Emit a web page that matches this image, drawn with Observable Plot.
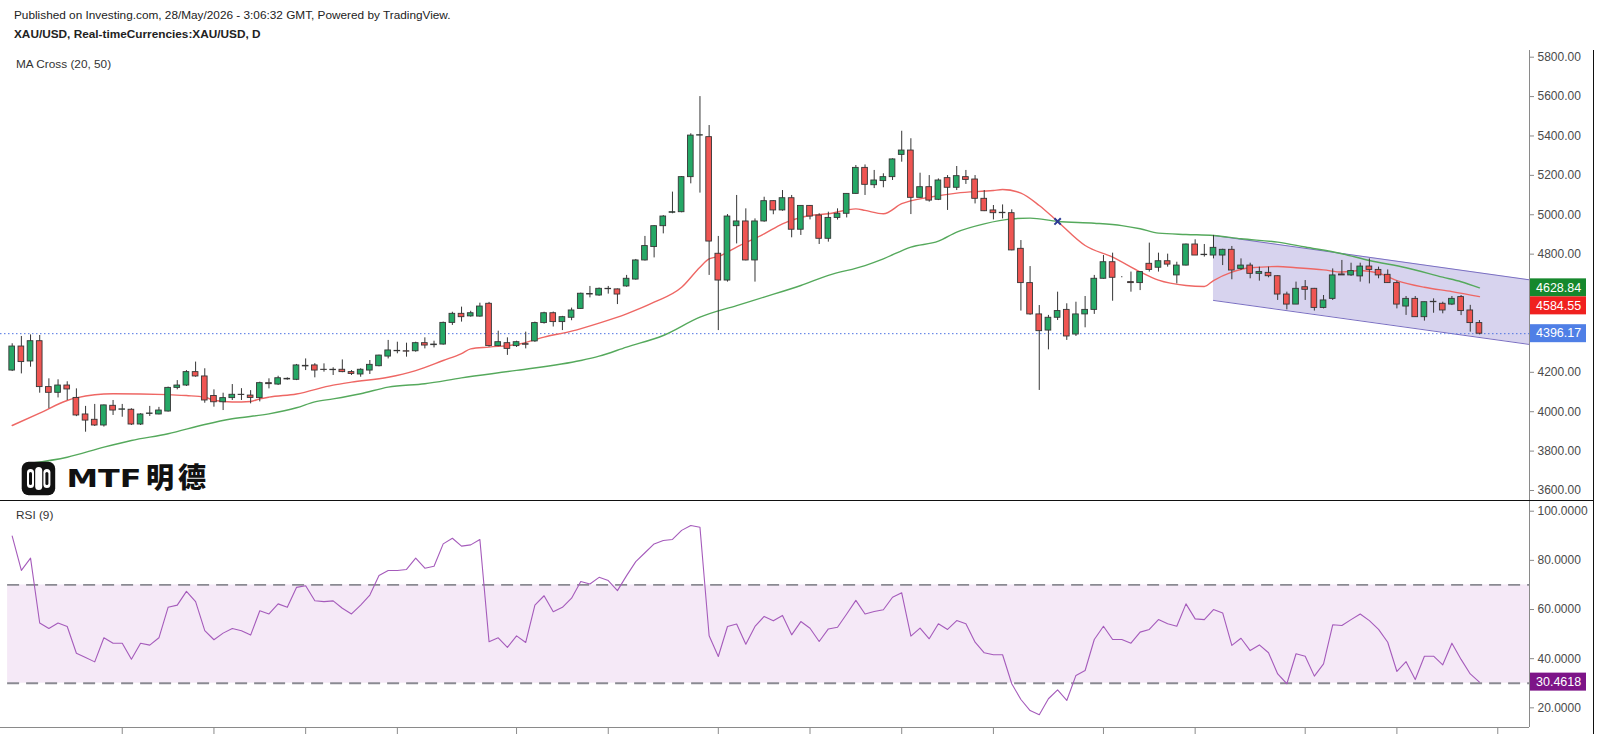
<!DOCTYPE html>
<html><head><meta charset="utf-8">
<script src="https://cdn.jsdelivr.net/npm/d3@7"></script>
<script src="https://cdn.jsdelivr.net/npm/@observablehq/plot@0.6"></script>
<style>
html,body{margin:0;padding:0;background:#fff;}
#root{position:relative;width:1600px;height:734px;overflow:hidden;font-family:"Liberation Sans",Arial,sans-serif;}
.t{position:absolute;white-space:nowrap;color:#222;line-height:1;}
.pane{position:absolute;left:0;}
.line{position:absolute;background:#111;}
</style></head><body>
<div id="root">
  <div class="t" style="left:14px;top:10px;font-size:11.8px;">Published on Investing.com, 28/May/2026 - 3:06:32 GMT, Powered by TradingView.</div>
  <div class="t" style="left:14px;top:29px;font-size:11.8px;font-weight:bold;">XAU/USD, Real-timeCurrencies:XAU/USD, D</div>
  <div class="t" style="left:16px;top:59px;font-size:11.8px;color:#333;">MA Cross (20, 50)</div>
  <div id="price" class="pane" style="top:50px;"></div>
  <div id="rsi" class="pane" style="top:501px;"></div>
  <div class="t" style="left:16px;top:510px;font-size:11.8px;color:#333;">RSI (9)</div>
  <div class="line" style="left:0;top:499.5px;width:1594px;height:1.5px;"></div>
  <div class="line" style="left:1592.5px;top:50px;width:1.3px;height:684px;"></div>
  <svg style="position:absolute;left:18px;top:456px;" width="280" height="43">
    <rect x="3.7" y="5.7" width="33.5" height="33.5" rx="7" fill="#111"/>
    <rect x="9" y="13" width="7" height="19" rx="3.5" fill="#fff"/>
    <rect x="17.2" y="11" width="7" height="23" rx="3.5" fill="#fff"/>
    <rect x="25.4" y="13" width="7" height="19" rx="3.5" fill="#fff"/>
    <rect x="11" y="16" width="3" height="13" rx="1.5" fill="#111"/>
    <rect x="27.4" y="16" width="3" height="13" rx="1.5" fill="#111"/>
    <text x="48.5" y="30.7" font-family="DejaVu Sans, sans-serif" font-weight="bold" font-size="25.5" fill="#111" textLength="75" lengthAdjust="spacingAndGlyphs">MTF</text>
    <text x="128" y="31.5" font-family="Noto Sans CJK SC, sans-serif" font-weight="900" font-size="28" fill="#111" letter-spacing="4">明德</text>
  </svg>
</div>
<script>
// ---- candle data (index 0..160) ----
const opens = [4209,4331,4255,4358,4125,4096,4133,4070,3986,3959,
3930,4030,4010,4010,3935,3989,3986,4001,4121,4133,
4201,4179,4080,4048,4069,4086,4082,4069,4145,4138,
4167,4162,4233,4235,4213,4213,4213,4201,4189,4209,
4231,4280,4307,4307,4307,4348,4338,4341,4451,4497,
4484,4483,4548,4333,4348,4333,4343,4357,4450,4500,
4455,4477,4522,4598,4590,4624,4621,4636,4671,4768,
4836,4942,5010,5013,5191,5402,5394,4802,4666,4942,
4966,4768,4966,5069,5022,5084,4924,5045,4996,4878,
4984,5005,5106,5238,5150,5171,5191,5304,5326,5086,
5140,5076,5186,5137,5191,5179,5081,5022,5008,5008,
4827,4653,4494,4412,4477,4517,4392,4494,4517,4675,
4759,4683,4658,4653,4751,4731,4764,4692,4742,4849,
4797,4793,4793,4822,4725,4742,4700,4705,4688,4595,
4544,4632,4624,4527,4573,4697,4692,4687,4737,4720,
4695,4653,4534,4573,4480,4556,4548,4544,4582,4514,
4450];
const highs = [4345,4382,4390,4387,4167,4162,4152,4116,4027,4037,
4034,4057,4037,4015,3990,4027,4022,4125,4158,4209,
4252,4218,4111,4094,4138,4117,4107,4150,4167,4180,
4172,4240,4268,4244,4243,4223,4263,4209,4218,4260,
4287,4362,4353,4348,4353,4375,4358,4455,4505,4531,
4510,4551,4555,4409,4375,4358,4404,4455,4505,4506,
4484,4526,4602,4636,4628,4636,4623,4692,4773,4890,
4945,4996,5115,5194,5411,5600,5453,4890,5001,5098,
5030,4979,5089,5071,5123,5098,5045,5047,5005,5013,
5030,5106,5250,5253,5225,5208,5284,5424,5386,5211,
5199,5182,5199,5245,5225,5199,5123,5047,5050,5025,
4869,4737,4539,4489,4607,4548,4556,4585,4692,4793,
4805,4686,4709,4709,4856,4805,4800,4759,4851,4873,
4849,4895,4825,4839,4776,4754,4734,4734,4690,4607,
4658,4666,4626,4590,4725,4768,4754,4754,4776,4734,
4720,4663,4585,4585,4556,4573,4556,4585,4590,4540,
4463];
const lows = [4204,4192,4226,4094,4015,4070,4057,3975,3896,3925,
3922,3981,3972,3930,3930,3976,3984,3998,4111,4128,
4175,4043,4023,4006,4057,4057,4040,4050,4116,4133,
4160,4158,4209,4172,4201,4184,4198,4184,4175,4189,
4228,4268,4294,4277,4302,4319,4324,4338,4438,4455,
4480,4480,4328,4330,4286,4326,4319,4352,4445,4430,
4412,4462,4520,4578,4586,4597,4544,4632,4668,4765,
4781,4903,5005,5010,5157,5110,4692,4412,4658,4852,
4766,4658,4962,5000,5018,4883,4895,4974,4849,4861,
4973,4984,5104,5098,5133,5137,5174,5267,5001,5084,
5064,5072,5022,5123,5154,5055,5016,4974,4979,4817,
4511,4490,4108,4314,4463,4362,4382,4426,4494,4673,
4561,4680,4607,4615,4709,4709,4734,4649,4740,4793,
4785,4776,4742,4670,4717,4675,4663,4680,4565,4517,
4544,4565,4511,4522,4565,4692,4687,4658,4649,4675,
4652,4522,4489,4480,4460,4500,4497,4539,4488,4404,
4390];
const closes = [4331,4252,4358,4125,4096,4133,4113,3981,3955,3930,
4032,4006,4012,3935,3986,3991,4006,4121,4133,4201,
4179,4057,4048,4069,4086,4085,4070,4145,4140,4170,
4164,4235,4230,4209,4212,4211,4201,4192,4213,4238,
4285,4311,4309,4305,4348,4336,4341,4451,4497,4480,
4500,4534,4333,4353,4319,4353,4340,4450,4500,4455,
4480,4514,4599,4595,4624,4622,4595,4675,4768,4841,
4942,4991,5013,5191,5402,5404,4864,4666,4991,4966,
4768,4966,5069,5022,5084,4924,5045,4991,4878,4984,
5005,5106,5238,5152,5174,5191,5281,5326,5086,5140,
5072,5174,5137,5196,5177,5081,5018,5008,5010,4819,
4653,4494,4409,4477,4511,4382,4494,4517,4675,4759,
4680,4683,4653,4709,4720,4764,4747,4742,4849,4793,
4795,4832,4822,4717,4742,4700,4709,4688,4595,4544,
4624,4619,4527,4565,4692,4692,4714,4737,4720,4692,
4653,4544,4573,4480,4556,4558,4514,4573,4511,4450,
4396.17];

// ---- moving averages (bar index, value) ----
const ma20Idx = [0,3,6,7,11,17,19,21,22,24,26,27,28,31,35,37,41,44,47,49,50,52,55,58,61,64,67,70,73,75,76,77,79,82,84,87,89,92,93,95,97,100,103,107,108,110,112,114,117,120,123,125,128,130,131,133,135,138,140,143,145,147,149,151,154,157,160];
const ma20Val = [3930,3993,4057,4070,4091,4087,4082,4074,4058,4049,4052,4065,4074,4090,4135,4150,4175,4209,4260,4295,4319,4328,4341,4379,4409,4450,4497,4556,4632,4734,4776,4788,4836,4903,4954,4996,5005,5030,5022,5005,5056,5089,5110,5123,5128,5110,5047,4966,4844,4785,4710,4668,4641,4636,4666,4709,4731,4737,4731,4720,4709,4717,4704,4666,4632,4610,4584.55];
const ma50Idx = [2,6,10,13,17,21,24,28,31,33,35,38,41,45,49,55,62,64,67,71,75,79,82,86,89,93,95,98,101,103,106,109,111,114,118,121,123,125,128,131,134,138,141,145,148,152,156,158,160];
const ma50Val = [3738,3769,3820,3854,3888,3935,3964,3989,4020,4050,4065,4091,4125,4142,4172,4210,4260,4282,4328,4387,4480,4539,4582,4641,4692,4742,4776,4836,4866,4912,4954,4979,4983,4966,4957,4945,4929,4907,4900,4895,4878,4861,4836,4802,4768,4731,4683,4660,4628.84];
const crossIdx = [114];
const crossVal = [4966];

// ---- parallel channel ----
const chIdx = [131, 165.46];
const chTop = [4895, 4669.6];
const chBot = [4565, 4341.5];

// ---- RSI(9) per bar ----
const rsiVal = [89.9,75.9,80.9,54.5,52.3,54.5,53.1,42.2,40.5,38.7,
48.5,46.3,46.3,39.8,46.3,45.5,48.5,60.9,61.8,67.4,
63.2,51.4,47.7,50.4,52.3,51.4,49.6,59.5,58.2,62.3,
60.9,69.0,69.7,63.6,63.2,63.5,60.5,58.2,61.8,65.9,
73.8,75.9,75.9,76.3,80.9,76.8,77.6,86.7,89.0,85.8,
86.3,88.5,46.9,48.5,44.6,49.3,46.6,61.8,65.6,59.1,
60.9,64.6,71.4,70.4,73.1,71.8,67.7,73.8,79.5,83.1,
86.7,88.1,88.5,92.2,94.2,93.5,49.3,40.9,53.1,54.1,
45.9,53.1,57.2,55.4,57.6,49.7,55.1,52.4,47.0,52.1,
52.8,58.2,63.7,58.2,59.2,59.9,65.0,66.8,49.2,52.4,
48.1,54.2,51.9,55.5,54.2,46.7,42.4,41.6,41.6,29.8,
23.4,18.9,17.2,23.7,27.3,23.0,33.2,35.2,47.8,53.2,
47.8,47.8,46.3,50.8,51.9,55.9,54.2,53.2,62.3,56.2,
55.9,60.0,58.6,45.4,48.3,43.3,45.6,42.4,33.8,29.8,
42.0,41.0,32.9,37.9,53.8,53.5,55.9,58.2,55.5,51.9,
46.7,34.8,38.8,31.5,41.0,41.0,37.5,46.3,39.7,33.8,
30.4618];

// ---- ticks (4400 and 4600 labels are hidden behind the price tags in the reference) ----
const priceTicks = [3600,3800,4000,4200,4800,5000,5200,5400,5600,5800];
const rsiTicks = [20,40,60,80,100];
const rsiLevels = [70,30];
const timeTickIdx = [12,22,32,42,55,65,77,87,97,107,119,129,141,151,162];
const priceTags = [
  {v: 4628.84, label: "4628.84", bg: "#16882d"},
  {v: 4584.55, label: "4584.55", bg: "#f0211f"},
  {v: 4396.17, label: "4396.17", bg: "#4f7fe6"}
];
const rsiTags = [{v: 30.4618, label: "30.4618", bg: "#7d1488"}];
</script>
<script>
const xDomain = [-1.276, 165.46];
const priceDomain = [3549.2, 5834];
const rsiDomain = [12.0, 103.95];
const GREEN = "#25a866", RED = "#ef5552", EDGE = "#363636";
const FONT = "Liberation Sans, Arial, sans-serif";
const TAG_H = 18;

const candles = opens.map((o, i) => ({i, o, h: highs[i], l: lows[i], c: closes[i]}));
const ma20 = ma20Idx.map((i, k) => ({i, v: ma20Val[k]}));
const ma50 = ma50Idx.map((i, k) => ({i, v: ma50Val[k]}));
const cross = crossIdx.map((i, k) => ({i, v: crossVal[k]}));
const channel = chIdx.map((i, k) => ({i, top: chTop[k], bot: chBot[k]}));
const rsi = rsiVal.map((v, i) => ({i, v}));
const lastPrice = closes[closes.length - 1];

const price = Plot.plot({
  width: 1600, height: 450,
  marginLeft: 0, marginRight: 71, marginTop: 0, marginBottom: 0,
  style: {fontFamily: FONT, fontSize: "12px", color: "#4a4a4a", background: "transparent", overflow: "visible"},
  x: {domain: xDomain, axis: null},
  y: {domain: priceDomain},
  marks: [
    Plot.areaY(channel, {x: "i", y1: "bot", y2: "top", fill: "#8f86cf", fillOpacity: 0.36}),
    Plot.line(channel, {x: "i", y: "top", stroke: "#7a6fc2", strokeWidth: 1}),
    Plot.line(channel, {x: "i", y: "bot", stroke: "#7a6fc2", strokeWidth: 1}),
    Plot.ruleY([lastPrice], {stroke: "#4d72e3", strokeDasharray: "1.5,2.5", strokeWidth: 1}),
    Plot.line(ma50, {x: "i", y: "v", stroke: "#55a95c", strokeWidth: 1.4, curve: "monotone-x"}),
    Plot.line(ma20, {x: "i", y: "v", stroke: "#ee6764", strokeWidth: 1.4, curve: "monotone-x"}),
    Plot.ruleX(candles, {x: "i", y1: "l", y2: "h", stroke: EDGE, strokeWidth: 1}),
    Plot.rect(candles, {x1: d => d.i - 0.31, x2: d => d.i + 0.31, y1: "o", y2: "c",
      fill: d => d.c >= d.o ? GREEN : RED, stroke: EDGE, strokeWidth: 0.9}),
    Plot.dot(cross, {x: "i", y: "v", symbol: "times", r: 3, stroke: "#2c3a94", strokeWidth: 2}),
    Plot.ruleX([xDomain[1]], {stroke: "#8a8a8a"}),
    Plot.axisY({anchor: "right", ticks: priceTicks, tickFormat: d => d.toFixed(2), tickSize: 4, tickPadding: 4, stroke: "#8a8a8a", fill: "#4a4a4a"})
  ]
});
document.getElementById("price").appendChild(price);

const rsiPlot = Plot.plot({
  width: 1600, height: 233,
  marginLeft: 0, marginRight: 71, marginTop: 0, marginBottom: 7,
  style: {fontFamily: FONT, fontSize: "12px", color: "#4a4a4a", background: "transparent", overflow: "visible"},
  x: {domain: xDomain},
  y: {domain: rsiDomain},
  marks: [
    Plot.rect([{x1: -0.5, x2: xDomain[1], y1: 30, y2: 70}], {x1: "x1", x2: "x2", y1: "y1", y2: "y2", fill: "#9c27b0", fillOpacity: 0.1}),
    Plot.ruleY(rsiLevels.map(y => ({y, x1: -0.5, x2: xDomain[1]})), {y: "y", x1: "x1", x2: "x2", stroke: "#8a8a92", strokeWidth: 1.8, strokeDasharray: "12,7"}),
    Plot.line(rsi, {x: "i", y: "v", stroke: "#a55bbb", strokeWidth: 1.1}),
    Plot.ruleX([xDomain[1]], {stroke: "#8a8a8a"}),
    Plot.ruleY([rsiDomain[0]], {stroke: "#8a8a8a", strokeWidth: 1.2}),
    Plot.axisY({anchor: "right", ticks: rsiTicks, tickFormat: d => d.toFixed(4), tickSize: 4, tickPadding: 4, stroke: "#8a8a8a", fill: "#4a4a4a"}),
    Plot.axisX({anchor: "bottom", ticks: timeTickIdx, tickFormat: () => "", tickSize: 7, stroke: "#8a8a8a"})
  ]
});
document.getElementById("rsi").appendChild(rsiPlot);

// price tags on the right axis; like TradingView, a tag is pushed down when it would overlap the one above
function addTags(svgEl, tags) {
  const ys = svgEl.scale("y");
  const x0 = svgEl.scale("x").apply(xDomain[1]);
  const g = d3.select(svgEl).append("g").attr("text-anchor", "start");
  const placed = tags.map(t => ({...t, y: ys.apply(t.v)})).sort((a, b) => a.y - b.y);
  let prev = -Infinity;
  for (const t of placed) {
    const y = Math.max(t.y, prev + TAG_H);
    prev = y;
    g.append("rect").attr("x", x0 + 1).attr("y", y - TAG_H / 2).attr("width", 56).attr("height", TAG_H).attr("fill", t.bg);
    g.append("text").attr("x", x0 + 7).attr("y", y + 4.3).attr("fill", "#fff")
      .attr("text-anchor", "start").attr("font-family", FONT).attr("font-size", 12.5).text(t.label);
  }
}
addTags(price, priceTags);
addTags(rsiPlot, rsiTags);
</script>
</body></html>
